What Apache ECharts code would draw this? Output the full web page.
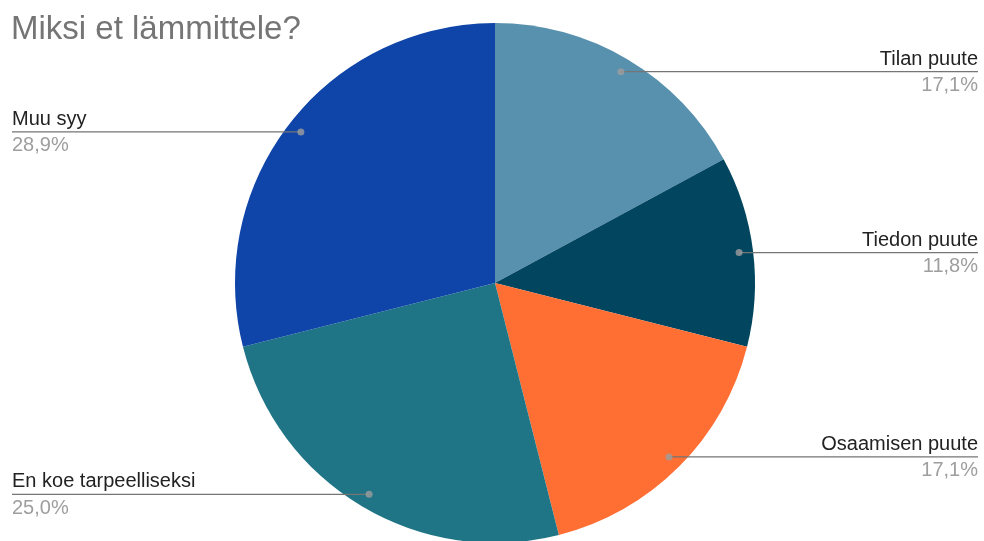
<!DOCTYPE html>
<html lang="fi">
<head>
    <meta charset="UTF-8">
    <title>Miksi et lämmittele?</title>
    <script src="https://cdn.jsdelivr.net/npm/echarts@6/dist/echarts.min.js"></script>
</head>
<body style="margin: 0">
<div id="main" style="width: 984px;height: 541px"></div>
<script>
    // vastaukset (kpl)
    const reasons = ['Tilan puute', 'Tiedon puute', 'Osaamisen puute', 'En koe tarpeelliseksi', 'Muu syy'];
    const counts = [13, 9, 13, 19, 22];
    const colors = ['#5791AE', '#01455F', '#FF6E33', '#1F7585', '#0F44A8'];

    const FONT = 'Liberation Sans';
    const FONT_SIZE = 20;

    const chart = echarts.init(document.getElementById('main'));

    const total = counts.reduce((a, b) => a + b, 0);
    const pct = v => (v / total * 100).toFixed(1).replace('.', ',') + '%';

    // measure label text so the guide line can run under it up to the edge
    const ctx = document.createElement('canvas').getContext('2d');
    ctx.font = FONT_SIZE + 'px "' + FONT + '"';

    let acc = 0;
    const mids = counts.map(v => {
        const m = (acc + v / 2) / total * 360;
        acc += v;
        return m;
    });

    const pieData = reasons.map((name, i) => ({name: name, value: counts[i]}));

    const labelData = reasons.map((name, i) => {
        const w = Math.max(ctx.measureText(name).width, ctx.measureText(pct(counts[i])).width);
        const right = mids[i] < 180;
        return {
            name: name,
            value: counts[i],
            label: {
                distanceToLabelLine: -w,
                edgeDistance: right ? 6 : 12
            }
        };
    });

    // dots at the middle angle of each slice
    const dots = mids.map(m => [0.946, m]);

    let option = {
        color: colors,
        animation: false,
        title: {
            text: 'Miksi et lämmittele?',
            left: 6,
            top: 8,
            textStyle: {
                fontFamily: FONT,
                fontSize: 33,
                fontWeight: 'normal',
                color: '#757575'
            }
        },
        polar: {
            center: [495, 283],
            radius: 260
        },
        angleAxis: {
            type: 'value',
            min: 0,
            max: 360,
            startAngle: 90,
            clockwise: true,
            show: false
        },
        radiusAxis: {
            type: 'value',
            min: 0,
            max: 1,
            show: false
        },
        series: [
            {
                type: 'pie',
                z: 2,
                center: [495, 283],
                radius: 260,
                startAngle: 90,
                silent: true,
                data: pieData,
                label: {show: false},
                labelLine: {show: false}
            },
            {
                type: 'pie',
                z: 5,
                center: [495, 283],
                radius: 246,
                startAngle: 90,
                silent: true,
                data: labelData,
                itemStyle: {color: 'rgba(0,0,0,0)'},
                label: {
                    show: true,
                    position: 'outside',
                    alignTo: 'edge',
                    fontFamily: FONT,
                    formatter: function (p) {
                        return '{n|' + p.name + '}\n{p|' + pct(p.value) + '}';
                    },
                    rich: {
                        n: {fontSize: FONT_SIZE, lineHeight: 28, color: '#222', fontFamily: FONT},
                        p: {fontSize: FONT_SIZE, lineHeight: 25, color: '#9e9e9e', fontFamily: FONT}
                    }
                },
                labelLine: {
                    show: true,
                    length: 0,
                    length2: 10,
                    lineStyle: {color: '#757575', width: 1.2}
                }
            },
            {
                type: 'scatter',
                z: 6,
                coordinateSystem: 'polar',
                silent: true,
                symbolSize: 7,
                itemStyle: {color: '#9e9e9e'},
                data: dots
            }
        ]
    };
    chart.setOption(option);
</script>
</body>
</html>
